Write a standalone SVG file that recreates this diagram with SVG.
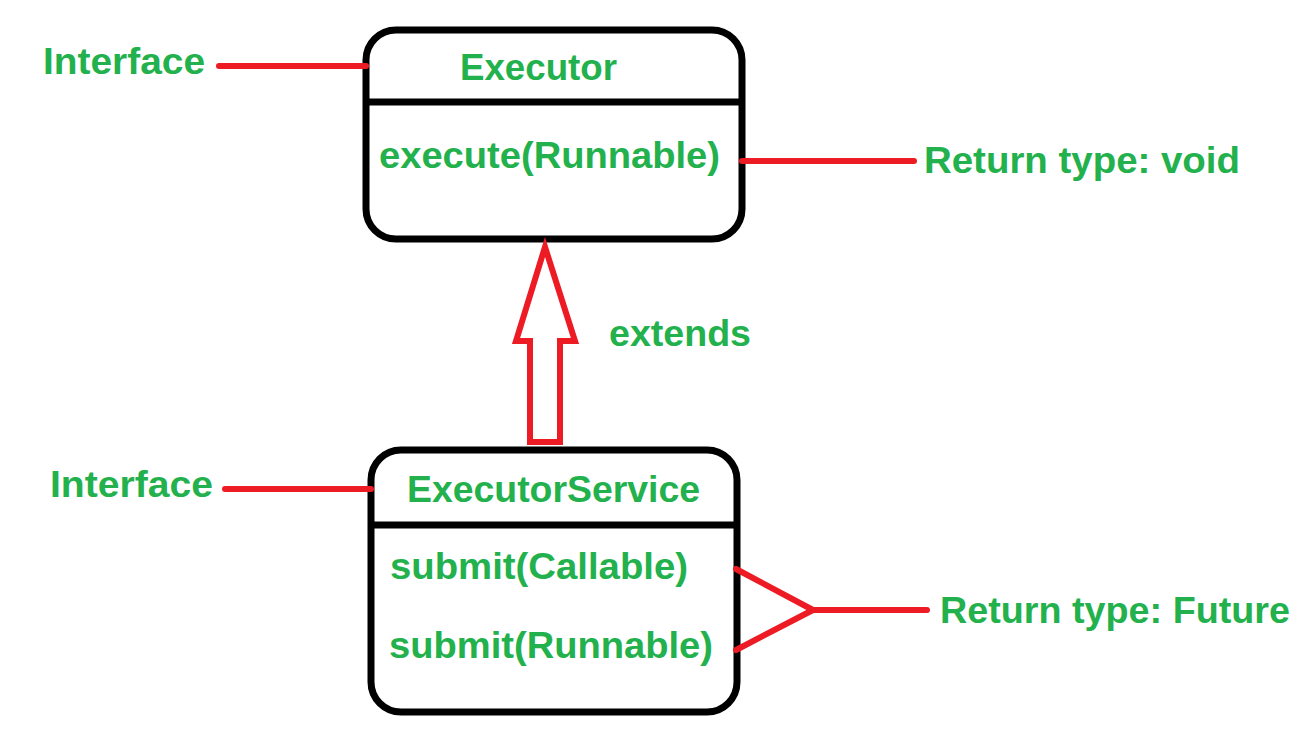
<svg xmlns="http://www.w3.org/2000/svg" width="1308" height="748" viewBox="0 0 1308 748">
<style>
.box{fill:#ffffff;stroke:#000000;stroke-width:7}
.div{stroke:#000000;stroke-width:7}
.lbl{font-family:"Liberation Sans",Arial,sans-serif;font-weight:bold;font-size:37px;fill:#22b14c}
.red{stroke:#ed1c24;stroke-width:6;stroke-linecap:round;fill:none;stroke-linejoin:round}
.arrow{stroke:#ed1c24;stroke-width:6;fill:#ffffff;stroke-linejoin:miter;stroke-miterlimit:12}
</style>
<rect width="1308" height="748" fill="#ffffff"/>
<g id="executor">
<rect class="box" x="366" y="30" width="376" height="209" rx="30" ry="30"/>
<line class="div" x1="366" y1="102" x2="742" y2="102"/>
<text class="lbl" x="460" y="80" textLength="157" lengthAdjust="spacingAndGlyphs">Executor</text>
<text class="lbl" x="379" y="168" textLength="341" lengthAdjust="spacingAndGlyphs">execute(Runnable)</text>
</g>
<g id="executorservice">
<rect class="box" x="371" y="450" width="366" height="262" rx="30" ry="30"/>
<line class="div" x1="371" y1="525" x2="737" y2="525"/>
<text class="lbl" x="407" y="502" textLength="293" lengthAdjust="spacingAndGlyphs">ExecutorService</text>
<text class="lbl" x="390" y="579" textLength="298" lengthAdjust="spacingAndGlyphs">submit(Callable)</text>
<text class="lbl" x="389" y="658" textLength="324" lengthAdjust="spacingAndGlyphs">submit(Runnable)</text>
</g>
<g id="labels">
<text class="lbl" x="43" y="74" textLength="162" lengthAdjust="spacingAndGlyphs">Interface</text>
<text class="lbl" x="50" y="497" textLength="163" lengthAdjust="spacingAndGlyphs">Interface</text>
<text class="lbl" x="924" y="173" textLength="316" lengthAdjust="spacingAndGlyphs">Return type: void</text>
<text class="lbl" x="940" y="623" textLength="350" lengthAdjust="spacingAndGlyphs">Return type: Future</text>
<text class="lbl" x="609" y="346" textLength="142" lengthAdjust="spacingAndGlyphs">extends</text>
</g>
<g id="connectors">
<line class="red" x1="219" y1="66" x2="366" y2="66"/>
<line class="red" x1="742" y1="161" x2="914" y2="161"/>
<line class="red" x1="225" y1="489" x2="371" y2="489"/>
<polyline class="red" points="736,569 813,610 736,650"/>
<line class="red" x1="813" y1="610" x2="927" y2="610"/>
<polygon class="arrow" points="545,247 575,341 560,341 560,442 530,442 530,341 516,341"/>
</g>
</svg>
